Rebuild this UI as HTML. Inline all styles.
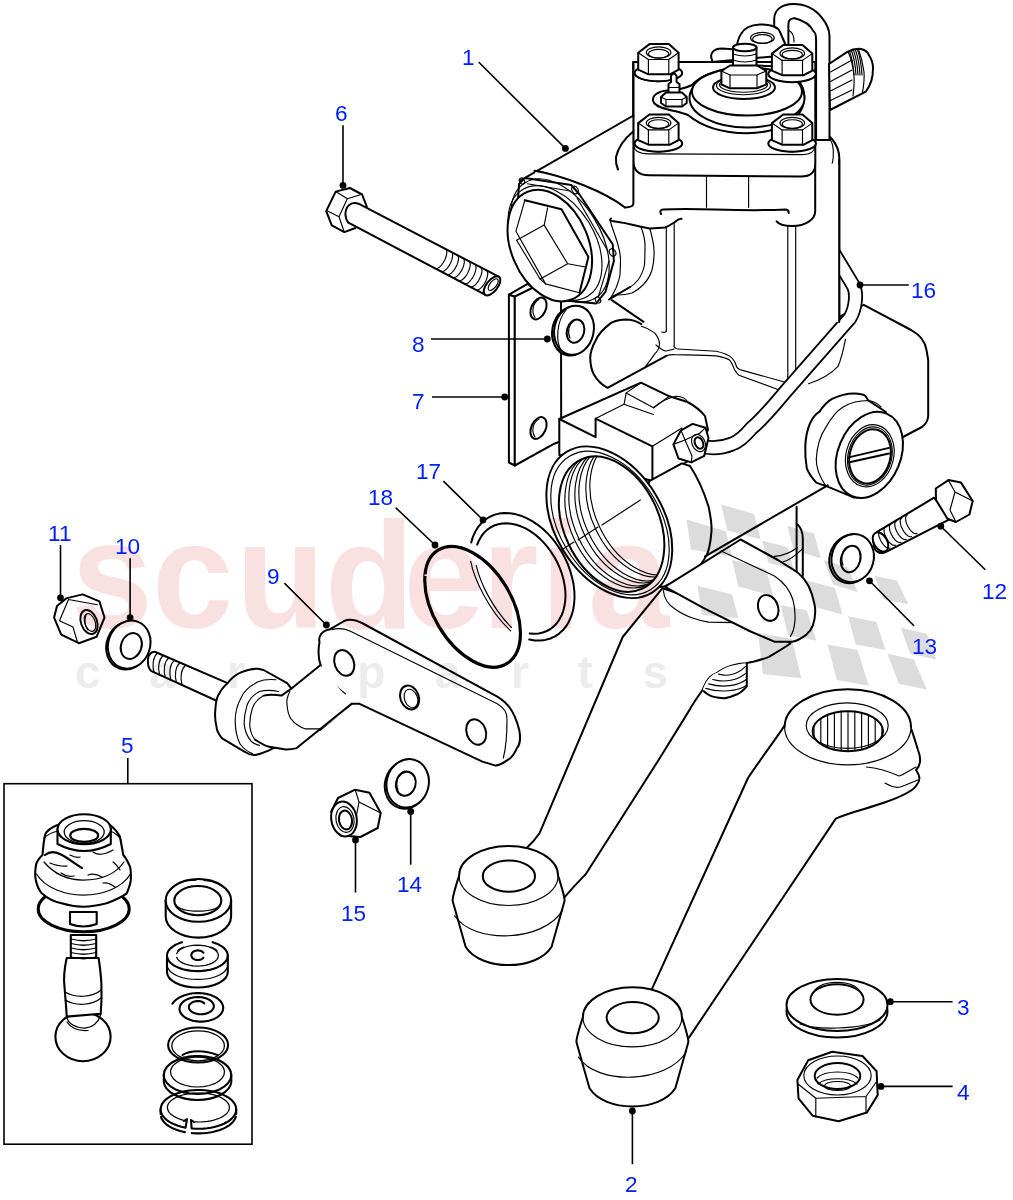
<!DOCTYPE html>
<html><head><meta charset="utf-8"><style>
html,body{margin:0;padding:0;background:#fff;width:1013px;height:1200px;overflow:hidden}
svg{display:block}
.wm{font-family:"Liberation Sans",sans-serif;font-weight:bold;fill:#fae1e1}
.wg{font-family:"Liberation Sans",sans-serif;font-weight:bold;fill:#ececee}
.lb{font-family:"Liberation Sans",sans-serif;font-size:22.6px;fill:#0020ff}
.ld{stroke:#000;stroke-width:1.6;fill:none}
.o{stroke:#000;stroke-width:2;fill:#fff;stroke-linejoin:round;stroke-linecap:round}
.on{stroke:#000;stroke-width:2;fill:none;stroke-linejoin:round;stroke-linecap:round}
.t{stroke:#000;stroke-width:1.15;fill:none;stroke-linejoin:round;stroke-linecap:round}
#box5 .o,#box5 .on{stroke-width:2.1}
#box5 .t{stroke-width:1.25}
.f{fill:#fff;stroke:none}
.tf{stroke:#000;stroke-width:1.1;fill:#fff;stroke-linejoin:round;stroke-linecap:round}
</style></head><body>
<svg id="s" width="1013" height="1200" viewBox="0 0 1013 1200">
<rect width="1013" height="1200" fill="#fff"/>
<g id="parts">
<path class="f" d="M800 330 L839 317 L863.7 304.8 L911.1 330 C920 335 925.3 341 926.5 350 L928.2 360 L928.2 416 C928 421 926 424 922 427 L901 438 L827.7 485.3 L705.1 556.4 L665.7 586.8 L620 590 L640 380 Z"/>
<path class="on" d="M839 317 L863.7 304.8 L911.1 330 C920 335 925.3 341 926.5 350 L928.2 360 L928.2 416 C928 421 926 424 922 427 L901 438 L824.8 486.2"/>
<path class="f" d="M740.6 539.5 L796.6 506.7 L802.8 528 L802.8 576 L760 580 Z"/>
<path class="o" d="M805.3 446.3 C806 428 812 416 819.5 411.6 C824 405 828 401 832.1 398.9 C840 395 847 393.4 854.2 393.4 C859 393.5 863 394 865.3 395.8 L868.4 400.5 L886 412 L866 470 L854.2 497.7 L825.8 485.8 C821 484.5 818.5 483.5 816.3 482.6 C812 478 809 474 806.8 468.4 C805.5 461 805 454 805.3 446.3 Z"/>
<path class="t" d="M816.3 459 C817 445 820 436 825.8 427.4 C831 418 836 411 843.2 406.9 C850 403 858 400.5 868.4 400.5 C873 401 877 403 881 406.9"/>
<path class="t" d="M816.3 459 C816 468 819 476 825.8 485.8"/>
<ellipse class="o" cx="869.3" cy="454.9" rx="31.3" ry="44.8" transform="rotate(22.7 869.3 454.9)"/>
<ellipse class="t" cx="869.8" cy="455.8" rx="23.8" ry="31.5" transform="rotate(15 869.8 455.8)"/>
<ellipse class="t" cx="869.9" cy="456" rx="21.8" ry="29.5" transform="rotate(15 869.9 456)"/>
<ellipse class="on" cx="870" cy="456.3" rx="20.3" ry="27.5" transform="rotate(15 870 456.3)"/>
<path class="on" d="M848.7 457.4 L889 447.9 M849.5 462.2 L889 453.5"/>
<path class="f" d="M805 128 L816.8 128 C828 133 839 143 839.3 158 L839.3 322 L805 322 Z"/>
<path class="on" d="M816.8 128 C828 133 839 143 839.3 158 L839.3 322"/>
<path class="t" d="M817.5 129.5 C824 132 828 135 830 139 C832.5 143 833.3 147 833.3 150 C833.5 155 833 160 832.5 162.5 C830 168 828 171 826.5 173.8 C823 177 820 179 816.8 180.5"/>
<path class="t" d="M837.8 167.8 C833 177 826 185 816.8 190.3"/>
<path class="o" d="M774.2 60 L774.2 19 C774.2 9 783 4 793.2 4 C805 4 815 9 821.6 17.4 C827 24 829.5 30 829.5 36.3 L829.5 140 L816.1 140 L816.1 41 C816.1 35 815 32 813.7 31.6 C810 24 804.2 20.5 794.8 18.2 C791 18 788.4 20 788.4 24 L788.4 60 Z"/>
<path class="t" d="M789.2 30.8 C792 32 794 36 794 41.9"/>
<path class="o" d="M712 60 C709 53 714 48.5 722 48.5 L736 49.5 C737 44 738 38 741 34 C744 28 750 25 760 24.5 C770 24.5 778 27 780 32 L790 55 L712 62 Z"/>
<ellipse class="t" cx="762.4" cy="37.9" rx="11.8" ry="5.5"/>
<ellipse class="t" cx="762.4" cy="39" rx="9.8" ry="4.4"/>
<path class="o" d="M829 64 L846.9 52.1 C852 49.5 857 48.5 861.1 49 C865 50 868 52.5 869 55.3 C872 60 873 64 873 67.9 C873 73 872.5 77 871.4 80.6 C870 85 868 89 865.8 91.6 L830 110 Z"/>
<path class="t" d="M848 51.5 C851 58 853 66 854 76 C854.5 82 854 88 853 96 M858.5 49.3 C861 56 863 64 864 72 C864.5 78 864 84 862.5 92.5"/>
<path class="t" d="M849.5 51.2 C852.0 58.0 853.5 66 854.0 75"/>
<path class="t" d="M851.5 50.800000000000004 C854.0 57.7 855.5 66 856.0 75"/>
<path class="t" d="M853.5 50.400000000000006 C856.0 57.4 857.5 66 858.0 75"/>
<path class="t" d="M855.5 50.0 C858.0 57.1 859.5 66 860.0 75"/>
<path class="t" d="M857.5 49.6 C860.0 56.8 861.5 66 862.0 75"/>
<path class="t" d="M830.5 72.0 L852 60.0"/>
<path class="t" d="M830.5 81.5 L852 70.0"/>
<path class="t" d="M830.5 91.0 L852 80.0"/>
<path class="t" d="M830.5 100.5 L852 90.0"/>
<path class="f" d="M633.2 150 L633.2 203.3 Q633 207 627.3 207.3 L611 219 L600 330 L690 349 L787 382 L839 330 L839 165 L815 160 Z"/>
<path class="o" d="M633.2 62 L633.2 160 Q633.2 175.3 649 175.3 L801 176.5 Q815.3 176.5 815.3 164 L815.3 62 Z"/>
<path class="t" d="M633.6 146 Q635 153.8 648 153.8 L803 154.6 Q814 154.6 815 146"/>
<path class="o" d="M654 103 C650 96 658 91 668 90.5 C678 90 686 88 692 85 C705 70 740 64 770 66 C795 70 806 85 804 100 C803 118 780 133 747 133.3 C720 133 700 125 688 115 C675 110 660 110 654 103 Z"/>
<ellipse class="o" cx="747" cy="98" rx="57.5" ry="29.5"/>
<ellipse class="o" cx="747" cy="91.5" rx="55" ry="24"/>
<ellipse class="o" cx="744" cy="87.5" rx="31" ry="11.5"/>
<ellipse class="t" cx="743.5" cy="85.5" rx="27" ry="9.3"/>
<ellipse class="t" cx="743.5" cy="84.7" rx="24" ry="7.5"/>
<path class="o" d="M733 47.5 L733 70 L756.5 70 L756.5 47.5 Z"/>
<ellipse class="o" cx="744.75" cy="47.5" rx="11.75" ry="3.8"/>
<path class="t" d="M733 54 Q744.8 58 756.5 54 M733 60 Q744.8 64 756.5 60"/>
<polygon class="o" points="721.4,71.0 730.0,65.5 757.0,65.5 766.3,71.0 766.3,84.5 757.0,88.3 730.0,88.3 721.4,84.5"/>
<polyline class="t" points="721.4,71.0 730.0,75.0 757.0,75.0 766.3,71.0"/>
<path class="t" d="M730 75 V88.3 M757 75 V88.3"/>
<ellipse class="o" cx="658.4000000000001" cy="73.1" rx="23.8" ry="8.2"/>
<path class="t" d="M634.6 73.1 Q635.2 80.1 658.4000000000001 81.6 Q681.2 80.1 682.2 73.1"/>
<polygon class="o" points="638.2,52.7 649.5,44.1 668.8,44.1 678.6,52.7 678.6,69.7 670.0,74.3 648.4,74.3 638.2,69.7"/>
<polyline class="t" points="638.2,52.7 648.4,59.5 668.8,59.5 678.6,52.7"/>
<path class="t" d="M648.4000000000001 59.5 V74.3 M668.8000000000001 59.5 V74.3"/>
<ellipse class="t" cx="658.6" cy="52.5" rx="12.3" ry="5.6"/>
<ellipse class="t" cx="658.6" cy="53.7" rx="10.2" ry="4.3"/>
<ellipse class="o" cx="792.1" cy="74" rx="23.8" ry="8.2"/>
<path class="t" d="M768.3 74 Q768.9 81 792.1 82.5 Q814.9 81 815.9 74"/>
<polygon class="o" points="771.9,53.6 783.2,45.0 802.5,45.0 812.3,53.6 812.3,70.6 803.7,75.2 782.1,75.2 771.9,70.6"/>
<polyline class="t" points="771.9,53.6 782.1,60.4 802.5,60.4 812.3,53.6"/>
<path class="t" d="M782.1 60.4 V75.2 M802.5 60.4 V75.2"/>
<ellipse class="t" cx="792.3" cy="53.4" rx="12.3" ry="5.6"/>
<ellipse class="t" cx="792.3" cy="54.6" rx="10.2" ry="4.3"/>
<ellipse class="o" cx="658.4000000000001" cy="143.5" rx="23.8" ry="8.2"/>
<path class="t" d="M634.6 143.5 Q635.2 150.5 658.4000000000001 152.0 Q681.2 150.5 682.2 143.5"/>
<polygon class="o" points="638.2,123.1 649.5,114.5 668.8,114.5 678.6,123.1 678.6,140.1 670.0,144.7 648.4,144.7 638.2,140.1"/>
<polyline class="t" points="638.2,123.1 648.4,129.9 668.8,129.9 678.6,123.1"/>
<path class="t" d="M648.4000000000001 129.9 V144.7 M668.8000000000001 129.9 V144.7"/>
<ellipse class="t" cx="658.6" cy="122.9" rx="12.3" ry="5.6"/>
<ellipse class="t" cx="658.6" cy="124.1" rx="10.2" ry="4.3"/>
<ellipse class="o" cx="792.1" cy="143.5" rx="23.8" ry="8.2"/>
<path class="t" d="M768.3 143.5 Q768.9 150.5 792.1 152.0 Q814.9 150.5 815.9 143.5"/>
<polygon class="o" points="771.9,123.1 783.2,114.5 802.5,114.5 812.3,123.1 812.3,140.1 803.7,144.7 782.1,144.7 771.9,140.1"/>
<polyline class="t" points="771.9,123.1 782.1,129.9 802.5,129.9 812.3,123.1"/>
<path class="t" d="M782.1 129.9 V144.7 M802.5 129.9 V144.7"/>
<ellipse class="t" cx="792.3" cy="122.9" rx="12.3" ry="5.6"/>
<ellipse class="t" cx="792.3" cy="124.1" rx="10.2" ry="4.3"/>
<path class="o" d="M668.5 94 L668.5 84 L671 82 L671 76 Q673.8 71 676.6 76 L676.6 82 L679.5 84 L679.5 94 Z"/>
<path class="t" d="M668.6 87.5 H679.4"/>
<polygon class="o" points="661.0,97.0 666.0,92.5 682.0,92.5 686.7,97.0 686.7,103.0 682.0,106.5 666.0,106.5 661.0,103.0"/>
<path class="t" d="M661 97 L666 99.5 H682 L686.7 97 M666 99.5 V106.5 M682 99.5 V106.5"/>
<path class="t" d="M706.5 176.7 V207.3 M748.6 176.7 V207.3"/>
<path class="on" d="M661 214 Q659 210 663 209.5 C700 207 730 212 786 209.5 Q789 210 788.6 213"/>
<path class="on" d="M776.6 221.4 Q780 226 792.6 226 C805 226 815 220 815.2 211.3 L815.2 166"/>
<path class="t" d="M666.3 227.3 V330.9 M674.2 222 V346.8 M787.8 226 V379.7 M795.7 226 V369.5"/>
<path class="t" d="M674.2 346.8 C675 348 676 349 677.6 349 L716.2 351.3 C724 353 729 355 732.1 358.1 C735 361 736 364 736.7 367.2 C738 369 740 370 743.5 370.6 L784.4 382 Q787.8 382 787.8 379.7"/>
<path class="t" d="M666.3 330.9 Q666 333 661.7 332"/>
<path class="f" d="M520.6 180.4 L633.5 115.5 L633.5 206 L611 219 L611 300 L644 323 L640 380 L600 400 L560 330 Z"/>
<path class="on" d="M520.6 180.4 L633.5 115.5"/>
<path class="on" d="M633.3 131.5 C624 139 618 148 616 157 C615.5 162 616.5 166 618 169.5"/>
<path class="t" d="M537 170.6 C560 176 600 190 627 207"/>
<path class="on" d="M641.3 324.1 C635 320 630 319.5 625.4 319.5 C618 320 613 321 609.5 324.1 C602 330 598 335 595.9 340 C592 347 590.2 352 590.2 358.1 C590.5 365 591.5 370 593.6 374 C597 380 602 385 607.2 387.6"/>
<path class="on" d="M611.8 300.2 L643.6 321.8"/>
<path class="t" d="M641.3 326.3 C648 328 654.9 333.1 654.9 333.1 C658 337 659.5 341 659.5 344.5 C659 349 657 352 654.9 353.6 C652 358 649 362 645.8 366.1"/>
<path class="on" d="M608 387.6 L666.3 355.9"/>
<path class="t" d="M666.3 355.9 C670 354.5 673 354.5 675.4 354.7 C690 355 705 355 716.2 355.9 C722 357 727 358 729.9 360.4 C732 363 733 366 734.4 369.5 C736 372 737 374 739 375.2 L782.1 391"/>
<path class="t" d="M656 345 C660 348.5 663 351 666 351 C669 350.5 672 349.5 674.2 349"/>
<path class="o" d="M508.9 294.7 L527.6 283.8 L532.6 287.8 L514.8 296.7 Z"/>
<path class="o" d="M508.9 294.7 L514.8 296.7 L514.8 465.5 L508.9 462.5 Z"/>
<path class="o" d="M514.8 296.7 L532.6 287.8 L561 300 L561.2 441 L554.3 443.7 L514.8 465.5 Z"/>
<ellipse class="on" cx="538.5" cy="308.5" rx="7.2" ry="11.5" transform="rotate(25 538.5 308.5)"/>
<path class="t" d="M535 317.5 C531 311.5 533 302.5 539 299.5"/>
<ellipse class="on" cx="538.5" cy="428" rx="7.2" ry="11.5" transform="rotate(25 538.5 428)"/>
<path class="t" d="M535 437 C531 431 533 422 539 419"/>
<path class="f" d="M534.5 170.8 C565 176 605 192 629 206.3 L611 219 L640 226.5 L650 229 C656 245 655 262 652 270 C649 280 645 285 643 285 C638 290 632 293 618 295 L596 303 Z"/>
<path class="on" d="M534.5 170.8 C565 176 605 192 625 207.5"/>
<path class="on" d="M633.4 62 L633.4 203.3 Q633.2 207.5 625 207.5"/>
<path class="on" d="M611 218.5 Q609 220 612 221 C620 222 630 224 640 226.5 C645 227.5 648 228.5 650 228.5 C655 228.3 660 228 665 227.5 C669 226 672 224 675 222 C677 220 679 218.5 681.5 218.8"/>
<path class="t" d="M610 220 C612 228 616 237 618 245 C620 252 620.5 258 620.5 260 C620.5 268 620 272 620 275 C619 281 617 285 616 288 C614 292 612 296 610 299"/>
<path class="t" d="M641 227 C644 235 645 240 645 245 C645 252 645 258 644.5 265 C643 272 641 276 638 280 C635 284 632 286 629 288 C624 291 618 294 613 296"/>
<path class="t" d="M650 229 C652 237 654 244 654 250 C654.5 258 653.5 264 652 270 C650 276 647 281 643 285 C640 288 636 291 632 293 C627 294.5 622 295 618 295"/>
<path class="on" d="M609 299.5 C615 296 623 291 630 287"/>
<path class="o" d="M519.1 183.8 L525 177.9 L571.2 185 L579.5 194.5 L612.7 244.2 L613.9 260.8 L605.6 291.6 L596.1 303.5 L560 300 L515 240 Z"/>
<path class="t" d="M527.4 183.8 L570 191 M577.1 198 L608 251.3 M609.1 260.8 L598.5 296.4"/>
<ellipse class="t" cx="522" cy="181" rx="2.5" ry="3.25" transform="rotate(-30 522 181)"/>
<ellipse class="t" cx="575" cy="190" rx="3" ry="3.9000000000000004" transform="rotate(-30 575 190)"/>
<ellipse class="t" cx="612.6" cy="252.5" rx="3" ry="3.9000000000000004" transform="rotate(-30 612.6 252.5)"/>
<ellipse class="t" cx="598" cy="300" rx="2.5" ry="3.25" transform="rotate(-30 598 300)"/>
<ellipse class="t" cx="560" cy="240.5" rx="40.6" ry="67.5" transform="rotate(-31 560 240.5)"/>
<ellipse class="t" cx="555" cy="243" rx="39.6" ry="62.5" transform="rotate(-31.5 555 243)"/>
<ellipse class="o" cx="549.8" cy="245.6" rx="58.2" ry="38.7" transform="rotate(67.2 549.8 245.6)"/>
<path class="on" d="M524.9 200.2 L561.5 209.2 L588.4 256.9 L579.5 292.8"/>
<path class="t" d="M524.9 200.2 L515.9 231.3 M579.5 292.8 L545.6 283.9 L515.9 231.3"/>
<path class="t" d="M516.6 240.3 L544.2 225.1 L567.7 263.8 L540.1 279 Z"/>
<path class="t" d="M544.2 225.1 L547.6 207.8 M567.7 263.8 L585.5 267 M540.1 279 L545.6 283.9"/>
<ellipse class="o" cx="572" cy="331" rx="19.7" ry="24.7" transform="rotate(12 572 331)"/>
<ellipse class="o" cx="574" cy="330.2" rx="19.7" ry="24.7" transform="rotate(12 574 330.2)"/>
<ellipse class="on" cx="575.5" cy="331.2" rx="8.6" ry="11.8" transform="rotate(15 575.5 331.2)"/>
<path class="t" d="M570 338 C567 332 569 324 574 321"/>
<path class="t" d="M561 350 C556 342 556 322 566 310"/>
<path class="t" d="M845.5 339.2 C843 352 840 362 838 366.4 C830 375 820 380 808.5 383.7"/>
<clipPath id="cpipe"><path d="M839 0 H1013 V1200 H0 V322 H839 Z"/></clipPath>
<g clip-path="url(#cpipe)">
<path d="M833 252 L853.5 286 C857 293 856 308 850 318 L786 391 C775 404 762 420 751.7 428 C745 436 738 442 732 444 C722 448 711 450 697 445" fill="none" stroke="#000" stroke-width="15" stroke-linecap="butt" stroke-linejoin="round"/>
<path d="M833 252 L853.5 286 C857 293 856 308 850 318 L786 391 C775 404 762 420 751.7 428 C745 436 738 442 732 444 C722 448 711 450 697 445" fill="none" stroke="#fff" stroke-width="11.4" stroke-linecap="butt" stroke-linejoin="round"/>
</g>
<path class="on" d="M839.2 160 V322"/>
<path class="o" d="M559.3 419 L641 382.7 L669.4 396.3 L687.5 402 C695 406 701 411 705 416 L708 430 L690 460 L652.4 481 L559.3 455 Z"/>
<path class="on" d="M559.3 419 L595.6 437.2 L595.6 418.6 L652.4 446.3 L652.4 481"/>
<path class="t" d="M595.6 418.6 L624 404.3 L626.2 392.9 L641 382.7"/>
<path class="t" d="M626.2 392.9 L653.5 407.7 L669.4 396.3 M624 404.3 L653.5 414.5"/>
<path class="t" d="M653.5 407.7 C660 402 668 398 676.2 396.3 C682 396.5 686 398.5 687.5 402"/>
<path class="t" d="M652.4 446.3 L681.9 428.1"/>
<path class="t" d="M652.4 481 L681.9 463.4"/>
<polygon class="o" points="673.4,444.4 681.0,430.3 692.6,423.9 705.5,427.7 708.5,438.0 704.2,455.9 691.3,462.4 678.5,458.5"/>
<path class="t" d="M681 430.3 L685 440 L673.4 444.4 M685 440 L692 456 L691.3 462.4 M685 440 L700 433 L705.5 427.7"/>
<ellipse class="t" cx="698.5" cy="443" rx="6.5" ry="9" transform="rotate(-25 698.5 443)"/>
<ellipse class="on" cx="699" cy="443" rx="4" ry="6" transform="rotate(-25 699 443)"/>
<path class="o" d="M649.3 481.2 L681.9 463.4 L690 466 C698 478 704 492 708.6 506.7 C711 518 712 528 711.3 533.3 C710.5 542 709 550 706.9 554.6 C703 562 700 566 696.2 568.8 C690 574 684 577 678.4 579.5 C672 583 668 585 664.2 586.6 L620 590 Z"/>
<ellipse class="o" cx="609.3" cy="522.2" rx="54" ry="82.3" transform="rotate(-31.3 609.3 522.2)"/>
<ellipse class="t" cx="610" cy="523" rx="50.5" ry="78" transform="rotate(-31.3 610 523)"/>
<clipPath id="cbore"><ellipse cx="611.6" cy="524.1" rx="71.5" ry="47.4" transform="rotate(64.5 611.6 524.1)"/></clipPath>
<ellipse class="on" cx="611.6" cy="524.1" rx="71.5" ry="47.4" transform="rotate(64.5 611.6 524.1)"/>
<g clip-path="url(#cbore)">
<ellipse class="t" cx="617.6" cy="520.1" rx="71.5" ry="47.4" transform="rotate(64.5 617.6 520.1)"/>
<ellipse class="t" cx="621.6" cy="518.1" rx="71.5" ry="47.4" transform="rotate(64.5 621.6 518.1)"/>
<ellipse class="t" cx="627.6" cy="515.1" rx="71.5" ry="47.4" transform="rotate(64.5 627.6 515.1)"/>
<ellipse class="t" cx="631.6" cy="513.1" rx="71.5" ry="47.4" transform="rotate(64.5 631.6 513.1)"/>
<ellipse class="t" cx="638.6" cy="509.1" rx="71.5" ry="47.4" transform="rotate(64.5 638.6 509.1)"/>
<ellipse class="t" cx="642.6" cy="507.1" rx="71.5" ry="47.4" transform="rotate(64.5 642.6 507.1)"/>
</g>
<path class="t" d="M559.5 551.3 L574 542 M578 540 L598 527 M602 525 L640.4 500"/>
<path class="on" d="M705.1 556.4 L827.7 485.3"/>
<path class="on" d="M796.6 506.7 V574.2"/>
<path class="on" d="M797.5 524.4 C801 528 802.8 533 802.8 538.6 V576"/>
<path class="t" d="M774.4 556.4 C782 556 790 553 797.5 547.5 M783.3 561.7 C790 560 796 555 801.9 549.3"/>
<path class="o" d="M662.5 588.2 L622.7 637 L539.5 833.3 C535 840 530 845 526.6 848 L564.4 897.3 C575 885 582 878 585.7 874.2 L658.6 760 L690 709.1 C695 700 700 694 702.8 689.4 C705 684 707 680 709.7 677.5 C712 675 715 673.5 717.6 672.6 C722 669 727 667 731.5 665.7 C736 664.5 741 663.5 745.3 663.2 L753.2 661.7 C760 660 765 658.5 769 656.8 C777 652 784 648 790.4 643.5 L760 620 Z"/>
<path class="o" d="M459.1 875.7 A49.5 29.8 0 0 1 558.1 875.7 C560.6 883.7 564.6 895.7 564.6 900.7 L551.6 946.7 C536.6 971.2 480.6 971.2 465.6 946.7 L452.6 900.7 C452.6 895.7 456.6 883.7 459.1 875.7 Z"/>
<path class="t" d="M454.6 915.7 C473.6 944.4000000000001 543.6 942.4000000000001 562.6 910.1"/>
<path class="t" d="M459.1 875.7 A49.5 29.8 0 0 0 558.1 875.7"/>
<ellipse class="on" cx="508.90000000000003" cy="876.2" rx="26.1" ry="15.6"/>
<path class="f" d="M702.8 689.4 C705 684 707 680 709.7 677.5 C712 675 715 673.5 717.6 672.6 C722 669 727 667 731.5 665.7 C736 664.5 741 663.5 746.8 663.2 L746.8 686.4 C742 692 738 694.5 734.4 695.3 C730 697 727 698.2 723.6 698.2 C716 697.5 712 696.5 709.7 695.3 C707 694 705 692.5 702.8 689.4 Z"/>
<path class="on" d="M746.8 663.2 L746.8 686.4 C742 692 738 694.5 734.4 695.3 C730 697 727 698.2 723.6 698.2 C716 697.5 712 696.5 709.7 695.3 C707 694 705 692.5 703.8 691.3"/>
<path class="t" d="M718.6 674.1 C728 677 738 674 745.3 666.7 M712.7 679.5 C725 683 738 680 745.3 673.6 M708.8 683.9 C722 688 738 686 746.3 679.5 M705.8 688.4 C720 693 738 691 746.3 685.4"/>
<path class="t" d="M663.3 590.2 C664 598 667.8 604.4 675 609 C685.5 616.8 700 621 708.6 622.1 L733.5 622.6"/>
<path class="o" d="M665.1 586.6 L740.6 539.5 L777.9 560 L792.1 568.8 C800 573 808 582 811.7 593.7 C814 601 815.5 608 815.2 612 C815 622 812 630 806.4 634.6 C802 638 797 641 792.1 641.7 L774.4 641.7 L749.5 631 L703.3 607.9 L667.8 588.4 Z"/>
<path class="t" d="M721.1 551.1 L774.4 576 C782 581 790 590 793 600 C795 608 795.5 615 794.8 622.1 C794 630 792 634 790.4 636.4"/>
<ellipse class="on" cx="768.2" cy="607.9" rx="9.8" ry="13.3" transform="rotate(-20 768.2 607.9)"/>
<path class="o" d="M784.6 725.6 C775 740 760 760 748 778 L651.9 989.2 L688.3 1038.6 L835.8 818.6 C850 812 870 808 885.1 802.3 C900 797 912 792 916.2 785.7 C921 780 920 776 916 770 C920 766 922 760 918 750 C915 740 912 730 909 723.5 Z"/>
<path class="o" d="M582.9 1017.1 A49.5 29.8 0 0 1 681.9 1017.1 C684.4 1025.1 688.4 1037.1 688.4 1042.1 L675.4 1088.1 C660.4 1112.6 604.4 1112.6 589.4 1088.1 L576.4 1042.1 C576.4 1037.1 580.4 1025.1 582.9 1017.1 Z"/>
<path class="t" d="M578.4 1057.1 C597.4 1085.8 667.4 1083.8 686.4 1051.5"/>
<path class="t" d="M582.9 1017.1 A49.5 29.8 0 0 0 681.9 1017.1"/>
<ellipse class="on" cx="632.6999999999999" cy="1017.6" rx="26.1" ry="15.6"/>
<path class="f" d="M784.6 727.1 A63.2 37.8 0 0 1 911 727.1 A63.2 37.8 0 0 1 784.6 727.1 Z"/>
<path class="on" d="M784.6 727.1 A63.2 37.8 0 0 1 911 727.1"/>
<path class="t" d="M784.6 727.1 A63.2 37.8 0 0 0 911 727.1"/>
<ellipse class="t" cx="847.2" cy="725.6" rx="41" ry="22.8"/>
<ellipse class="on" cx="847.8" cy="731.3" rx="35.2" ry="20"/>
<clipPath id="cspl"><ellipse cx="847.8" cy="731.3" rx="35.2" ry="20"/></clipPath><g clip-path="url(#cspl)">
<path class="t" d="M814.0 705 V760"/>
<path class="t" d="M820.8 705 V760"/>
<path class="t" d="M827.6 705 V760"/>
<path class="t" d="M834.4 705 V760"/>
<path class="t" d="M841.2 705 V760"/>
<path class="t" d="M848.0 705 V760"/>
<path class="t" d="M854.8 705 V760"/>
<path class="t" d="M861.6 705 V760"/>
<path class="t" d="M868.4 705 V760"/>
<path class="t" d="M875.2 705 V760"/>
<path class="t" d="M882.0 705 V760"/>
</g>
<path class="t" d="M866.4 767 C880 768 890 772 899 776 C905 774 910 770 916 767 M885 783 C890 786 896 788 900 787 C907 785 912 782 918 780"/>
<ellipse class="o" cx="837" cy="1011.5" rx="50.5" ry="26"/>
<ellipse class="o" cx="837" cy="1005" rx="50.5" ry="26"/>
<ellipse class="on" cx="837" cy="999.5" rx="26.6" ry="15.2"/>
<path class="t" d="M811.5 996 C815 986 825 982.3 837 982.3 C849 982.3 859 986 862.5 996"/>
<path class="t" d="M800 1024 C815 1030 860 1030 880 1020"/>
<polygon class="o" points="797.4,1079.9 808.2,1060.3 832.1,1051.7 862.5,1056.0 876.6,1071.2 877.7,1095.1 866.9,1112.5 838.6,1121.2 812.6,1115.7 798.5,1098.3"/>
<path class="t" d="M798 1084 L815.8 1098.3 L866 1096.5 L877 1081 M815.8 1098.3 V1117 M866 1096.5 V1113"/>
<ellipse class="t" cx="837.5" cy="1075.5" rx="33.7" ry="19.5"/>
<ellipse class="on" cx="837.5" cy="1076" rx="22.8" ry="13"/>
<path class="t" d="M817 1078 C825 1070 850 1070 858 1078 M818 1084 C826 1077 849 1077 857 1084"/>
<ellipse class="t" cx="837.5" cy="1086" rx="13" ry="4.5"/>
<polygon class="o" points="335.7,191.6 349.9,188.0 362.1,194.5 366.8,206.7 355.5,228.0 344.3,232.1 331.8,225.3 326.2,211.1"/>
<path class="t" d="M335.7 191.6 L347.3 198.7 L360.3 194.8 M347.3 198.7 L339 216.7 L327.1 210.8 M339 216.7 L344.3 232.1"/>
<path class="o" d="M358.5 203.7 L499.1 276.9 L485 294.7 L348.4 222.7 C345 219 344.5 212 347 207.5 C349.5 203.5 354 202 358.5 203.7 Z"/>
<ellipse class="o" cx="492" cy="285.8" rx="11.35" ry="5.6" transform="rotate(128.4 492 285.8)"/>
<ellipse class="t" cx="493.2" cy="284.6" rx="7" ry="3.2" transform="rotate(128.4 493.2 284.6)"/>
<polyline class="t" points="445.4,248.9 446.1,249.4 446.6,250.4 446.8,251.7 446.8,253.2 446.5,254.9 446.0,256.8 445.3,258.7 444.3,260.7 443.3,262.5 442.1,264.3 440.8,265.8 439.6,267.0 438.3,267.9 437.2,268.4 436.1,268.6 435.3,268.4"/>
<polyline class="t" points="451.3,251.9 452.0,252.5 452.4,253.5 452.6,254.7 452.6,256.2 452.3,258.0 451.8,259.9 451.1,261.8 450.2,263.7 449.1,265.6 447.9,267.3 446.7,268.8 445.4,270.0 444.2,270.9 443.0,271.5 442.0,271.6 441.1,271.4"/>
<polyline class="t" points="457.1,255.0 457.8,255.6 458.3,256.5 458.5,257.8 458.5,259.3 458.2,261.0 457.7,262.9 457.0,264.9 456.0,266.8 455.0,268.7 453.8,270.4 452.5,271.9 451.3,273.1 450.0,274.0 448.9,274.5 447.8,274.7 446.9,274.5"/>
<polyline class="t" points="463.0,258.0 463.7,258.6 464.1,259.6 464.3,260.8 464.3,262.4 464.0,264.1 463.5,266.0 462.8,267.9 461.9,269.9 460.8,271.7 459.6,273.4 458.4,274.9 457.1,276.1 455.9,277.0 454.7,277.6 453.7,277.7 452.8,277.5"/>
<polyline class="t" points="468.8,261.1 469.5,261.7 470.0,262.6 470.2,263.9 470.2,265.4 469.9,267.2 469.4,269.0 468.6,271.0 467.7,272.9 466.7,274.8 465.5,276.5 464.2,278.0 463.0,279.2 461.7,280.1 460.6,280.6 459.5,280.8 458.6,280.6"/>
<polyline class="t" points="474.7,264.1 475.4,264.7 475.8,265.7 476.0,266.9 476.0,268.5 475.7,270.2 475.2,272.1 474.5,274.0 473.6,276.0 472.5,277.8 471.3,279.5 470.1,281.0 468.8,282.3 467.6,283.2 466.4,283.7 465.4,283.9 464.5,283.6"/>
<polyline class="t" points="480.5,267.2 481.2,267.8 481.7,268.7 481.9,270.0 481.9,271.5 481.6,273.3 481.1,275.1 480.3,277.1 479.4,279.0 478.4,280.9 477.2,282.6 475.9,284.1 474.7,285.3 473.4,286.2 472.3,286.8 471.2,286.9 470.3,286.7"/>
<polyline class="t" points="486.4,270.3 487.1,270.9 487.5,271.8 487.7,273.1 487.7,274.6 487.4,276.3 486.9,278.2 486.2,280.2 485.3,282.1 484.2,284.0 483.0,285.7 481.8,287.2 480.5,288.4 479.3,289.3 478.1,289.8 477.1,290.0 476.2,289.8"/>
<ellipse cx="522" cy="576.8" rx="46.8" ry="68.1" transform="rotate(-28.8 522 576.8)" fill="#fff" stroke="none"/>
<polyline class="on" points="471.2,542.5 472.9,536.9 475.2,531.8 478.0,527.2 481.4,523.1 485.2,519.7 489.4,517.0 494.1,514.9 499.0,513.6 504.2,513.0 509.7,513.2 515.3,514.1 520.9,515.7 526.6,518.1 532.2,521.1 537.7,524.8 543.0,529.0 548.1,533.9 552.8,539.2 557.2,545.0 561.2,551.1 564.8,557.6 567.8,564.2 570.3,571.1 572.2,577.9 573.6,584.8 574.4,591.6 574.5,598.2 574.0,604.5 573.0,610.6 571.3,616.2 569.0,621.4 566.3,626.0 563.0,630.1 559.2,633.6 555.0,636.4 550.4,638.5 545.4,639.9 540.2,640.5 534.8,640.4 529.2,639.6"/>
<polyline class="on" points="477.2,544.7 479.0,540.4 481.3,536.4 483.9,532.9 487.0,529.9 490.4,527.5 494.2,525.5 498.2,524.2 502.4,523.4 506.9,523.3 511.4,523.7 516.1,524.7 520.8,526.3 525.6,528.4 530.2,531.1 534.7,534.3 539.1,538.0 543.3,542.1 547.2,546.6 550.8,551.5 554.1,556.6 557.1,562.0 559.6,567.6 561.7,573.2 563.4,579.0 564.5,584.7 565.3,590.4 565.5,595.9 565.2,601.2 564.4,606.3 563.2,611.1 561.5,615.6 559.3,619.6 556.8,623.2 553.8,626.4 550.5,629.0 546.8,631.0 542.8,632.5 538.7,633.4 534.3,633.8 529.7,633.5"/>
<path class="t" d="M470.7 561.3 C474 578 488 610 510.7 630.9 M476.2 565.4 C480 582 492 608 511.5 627.5"/>
<ellipse cx="472.6" cy="606.8" rx="39.1" ry="66.3" transform="rotate(-31 472.6 606.8)" fill="none" stroke="#000" stroke-width="3.2"/>
<path d="M424.5 575 L430 576" stroke="#fff" stroke-width="1.6"/>
<path class="o" d="M155.4 652 L227.6 683.2 L216 700.5 L151.5 671.2 C147 668 147 657 150 654 C151.5 652.5 153.5 651.5 155.4 652 Z"/>
<path class="t" d="M157.5 653.0 C153.0 657.0 152.0 665.0 154.0 672.5"/>
<path class="t" d="M163.1 655.45 C158.6 659.45 157.6 667.45 159.6 674.95"/>
<path class="t" d="M168.7 657.9 C164.2 661.9 163.2 669.9 165.2 677.4"/>
<path class="t" d="M174.3 660.35 C169.8 664.35 168.8 672.35 170.8 679.85"/>
<path class="t" d="M179.9 662.8 C175.4 666.8 174.4 674.8 176.4 682.3"/>
<path class="t" d="M185.5 665.25 C181.0 669.25 180.0 677.25 182.0 684.75"/>
<path class="o" d="M319.5 642 C318 636 322 631 329.4 629.6 L344.2 621 C350 618 356 620 362 623 L492.2 693.8 C505 700 514 708 519.4 730.8 C521 740 519 746 516.9 748.1 C514 755 510 759 507 760.4 C502 764 498 766 494.7 765.4 L482.4 761.6 L359 703.7 L351.6 703.7 L320 730 L320.7 665.4 C318 658 318 650 319.5 642 Z"/>
<path class="t" d="M331.8 629.6 C338 628 343 628 350 631 L497.2 703.7 C503 707 507 712 507 718.5 C507 735 506 748 503.3 758"/>
<path class="t" d="M322 669 C324 675 329.4 681.4 345.4 693.8"/>
<ellipse class="on" cx="344.2" cy="662.9" rx="9.6" ry="13.2" transform="rotate(-20 344.2 662.9)"/>
<ellipse class="on" cx="409.6" cy="697.5" rx="9.2" ry="12.2" transform="rotate(-20 409.6 697.5)"/>
<ellipse class="on" cx="476.2" cy="732" rx="9.6" ry="13" transform="rotate(-20 476.2 732)"/>
<ellipse class="t" cx="411" cy="698.5" rx="6.5" ry="9.5" transform="rotate(-20 411 698.5)"/>
<path class="o" d="M227.6 683.2 C232 677 237 674 241.5 672.1 C248 669.5 253 668.5 258 668.7 L263.6 670 L287.1 683.2 L290.5 687.3 L296 700 L290 740 L271.9 748.8 C268 751 263 753 255.3 755 C251 755.5 248 754 245.6 752.3 L222.1 738.4 C218 733 216.6 730 216.6 727.4 C215 720 214.8 716 215.2 712.2 C215.5 705 216 700 218 695.6 C221 690 224 686 227.6 683.2 Z"/>
<path class="t" d="M276 679.7 C268 679 262 680 258 681.8 C250 686 244 691 241.5 697 C237 705 235 714 235.2 721.9 C235.5 731 237 738 240.1 744 C244 749 248 752 252.5 753.6"/>
<path class="t" d="M278.8 691.5 C272 690 265 690 259.4 691.5 C253 695 249 700 247 705.3 C245 712 244 718 244.2 724.6 C245 731 247.5 737 251.1 741.2 C254 743.5 257 745 259.4 745.4"/>
<path class="f" d="M281.5 695.6 L291.2 688.7 L320.2 665.2 L351.6 703.7 L340 715 L305 741.2 L296.7 748.1 L285.7 749.5 L269.1 746.7 L255.3 739.8 C252.5 737 250.5 732 249.8 726 C249.5 720 250.5 714 252.5 708 C254 703 258 699 263.6 695.6 C268 694.5 275 694.5 281.5 695.6 Z"/>
<path class="t" d="M263.6 695.6 C258 699 254 703 252.5 708 C250.5 714 249.5 720 249.8 726 C250.5 732 252.5 737 255.3 739.8"/>
<path class="on" d="M263.6 695.6 C268 694.5 275 694.5 281.5 695.6 L291.2 688.7 L320.2 665.2"/>
<path class="on" d="M255.3 739.8 C262 744 265 746 269.1 746.7 L285.7 749.5 C292 749.5 296.7 748.1 296.7 748.1 L305 741.2 L351.6 703.7"/>
<path class="t" d="M289.8 691.5 C287 697 286.5 702 287.1 705.3 C287.5 712 289 716 291.2 719.1 C295 724 300 727 305 728.8 L320.2 728.8"/>
<polygon class="o" points="54.1,617.6 57.0,606.0 66.1,598.4 82.6,594.4 99.4,601.4 104.5,617.5 96.6,636.8 78.9,643.2 61.2,634.6"/>
<path class="t" d="M68.5 599.5 L97.4 604.7 M68.5 599.5 L59.5 620.7 L73 627.1 L77.5 642.5"/>
<ellipse class="on" cx="89" cy="622" rx="8" ry="12.5" transform="rotate(-20 89 622)"/>
<ellipse class="t" cx="90" cy="622.5" rx="5.2" ry="9.2" transform="rotate(-20 90 622.5)"/>
<path class="t" d="M86 615 C84 620 85 627 88 630"/>
<ellipse class="o" cx="127.5" cy="645.5" rx="20.9" ry="24.4" transform="rotate(20 127.5 645.5)"/>
<ellipse class="o" cx="129.2" cy="644.6" rx="20.9" ry="24.4" transform="rotate(20 129.2 644.6)"/>
<ellipse class="on" cx="131.3" cy="646" rx="10.2" ry="13.2" transform="rotate(20 131.3 646)"/>
<ellipse class="o" cx="406" cy="784.5" rx="21" ry="24.4" transform="rotate(15 406 784.5)"/>
<ellipse class="o" cx="407.7" cy="783.3" rx="21" ry="24.4" transform="rotate(15 407.7 783.3)"/>
<ellipse class="on" cx="405.8" cy="783.7" rx="9.8" ry="12.2" transform="rotate(15 405.8 783.7)"/>
<path class="t" d="M398 790 C395 782 398 773 405 771"/>
<polygon class="o" points="338.0,798.0 355.2,789.7 369.5,792.7 380.7,813.0 377.7,828.0 360.5,837.0 341.0,835.5 331.2,811.5"/>
<path class="t" d="M355.2 789.7 L359 802 L380.7 813 M359 802 L356 818"/>
<ellipse class="o" cx="344" cy="819" rx="12.7" ry="17.5" transform="rotate(-10 344 819)"/>
<ellipse class="t" cx="345" cy="819.5" rx="9" ry="13" transform="rotate(-10 345 819.5)"/>
<ellipse class="on" cx="345.5" cy="820" rx="6.5" ry="9.5" transform="rotate(-10 345.5 820)"/>
<path class="o" d="M934.1 497.7 L877.9 531.3 C872 535 872 549 878 552 C882 554 884 553 887.1 551.4 L950.9 518.7 Z"/>
<ellipse class="o" cx="880.5" cy="542" rx="6.7" ry="10.4" transform="rotate(-30 880.5 542)"/>
<polyline class="t" points="890.0,548.1 889.2,548.3 888.2,548.2 887.0,547.8 885.8,547.0 884.5,545.9 883.3,544.5 882.1,542.9 881.1,541.2 880.2,539.4 879.4,537.5 878.9,535.8 878.7,534.1 878.6,532.6 878.8,531.4 879.3,530.5 880.0,529.9"/>
<polyline class="t" points="895.4,545.2 894.6,545.4 893.6,545.3 892.4,544.9 891.2,544.1 889.9,543.0 888.7,541.6 887.5,540.0 886.5,538.3 885.6,536.5 884.8,534.6 884.3,532.9 884.1,531.2 884.0,529.7 884.2,528.5 884.7,527.6 885.4,527.0"/>
<polyline class="t" points="900.8,542.3 900.0,542.5 899.0,542.4 897.8,542.0 896.6,541.2 895.3,540.1 894.1,538.7 892.9,537.1 891.9,535.4 891.0,533.6 890.2,531.7 889.7,530.0 889.5,528.3 889.4,526.8 889.6,525.6 890.1,524.7 890.8,524.1"/>
<polyline class="t" points="906.2,539.4 905.4,539.6 904.4,539.5 903.2,539.1 902.0,538.3 900.7,537.2 899.5,535.8 898.3,534.2 897.3,532.5 896.4,530.7 895.6,528.8 895.1,527.1 894.9,525.4 894.8,523.9 895.0,522.7 895.5,521.8 896.2,521.2"/>
<polyline class="t" points="911.6,536.5 910.8,536.7 909.8,536.6 908.6,536.2 907.4,535.4 906.1,534.3 904.9,532.9 903.7,531.3 902.7,529.6 901.8,527.8 901.0,525.9 900.5,524.2 900.3,522.5 900.2,521.0 900.4,519.8 900.9,518.9 901.6,518.3"/>
<polyline class="t" points="917.0,533.6 916.2,533.8 915.2,533.7 914.0,533.3 912.8,532.5 911.5,531.4 910.3,530.0 909.1,528.4 908.1,526.7 907.2,524.9 906.4,523.0 905.9,521.3 905.7,519.6 905.6,518.1 905.8,516.9 906.3,516.0 907.0,515.4"/>
<polygon class="o" points="935.8,488.5 948.4,480.1 961.0,482.6 972.7,501.0 969.4,514.5 955.9,522.0 947.5,518.7 936.0,500.0"/>
<path class="t" d="M948.4 480.1 L955 492 L972.7 501 M955 492 L950 510 L955.9 522"/>
<ellipse class="o" cx="850.5" cy="559" rx="21" ry="24.3" transform="rotate(15 850.5 559)"/>
<ellipse class="o" cx="852.7" cy="558.1" rx="21" ry="24.3" transform="rotate(15 852.7 558.1)"/>
<ellipse class="on" cx="850.7" cy="559" rx="9.6" ry="13.4" transform="rotate(15 850.7 559)"/>
<path class="t" d="M843 565 C840 556 843 548 849 546"/>
<g id="box5">
<ellipse class="o" cx="83" cy="1036.8" rx="27.6" ry="24.4"/>
<path class="o" d="M66.7 958 C64 970 63.5 980 64.6 988 C65.5 1000 66.5 1010 66.7 1016.6 L100.7 1013.8 C101.5 1004 101.8 994 101.4 984 C101 975 99.8 966 98.6 958 Z"/>
<path class="t" d="M65 992 C75 998 92 998 101.2 990 M65.3 1000 C75 1006 92 1006 101 998"/>
<path class="t" d="M66.7 1016.6 C68 1024 76 1028 84 1028 C92 1028 99 1023 100.7 1013.8"/>
<path class="t" d="M67 1022 C72 1030 80 1031 88 1030.5"/>
<path class="o" d="M70.8 935 L70.8 958 L96.2 958 L96.2 935 Z"/>
<path class="t" d="M71 939 Q83.5 942.5 96 939"/>
<path class="t" d="M71 943.5 Q83.5 947.0 96 943.5"/>
<path class="t" d="M71 948 Q83.5 951.5 96 948"/>
<path class="t" d="M71 952.5 Q83.5 956.0 96 952.5"/>
<path class="t" d="M71 957 Q83.5 960.5 96 957"/>
<path class="o" d="M70 912 L70 924 Q83.3 929 96.7 924 L96.7 912 Z"/>
<ellipse cx="83.7" cy="909" rx="45.5" ry="22.7" fill="none" stroke="#000" stroke-width="3"/>
<path class="o" d="M57.5 825 C50 828 46 832 45 835 C43 845 43 850 42.5 855 C38 859 36 862 35.8 866.7 C35 872 35 877 35.8 880 C37 886 39 890 41.7 893.3 C48 899 55 902 61.7 903.3 C70 906 76 906.7 83.3 906.7 C92 906.7 100 905 106.7 903.3 C115 900 122 897 126.7 893.3 C129 888 130.5 884 130.8 880 C131 875 131 870 130 866.7 C128 862 126 858 123.3 855 C122 848 121 842 120 836.7 C117 831 114 828 110 825 Z"/>
<path class="t" d="M36.5 874 C45 888 65 895 83 895 C103 895 122 888 130.5 874"/>
<path class="t" d="M44 862 C55 875 68 880 83 880 C100 880 115 875 124 862"/>
<path class="on" d="M45 855 C50 851 55 851 62 855 C68 858 72 862 82 868"/>
<path class="t" d="M50 863 C55 865 60 867 67 866 M70 855 C74 857 77 858 80 857 M93 852 C98 856 104 855 113 850 M88 875 C93 873 97 874 102 877 M61 873 C65 876 70 877 74 876 M103 883 C107 882 111 884 115 887 M113 862 C116 864 118 867 120 870 M75 845 C80 847 86 848 92 846"/>
<path class="t" d="M44 838 C48 834 54 832 58 831 M110.5 831 C115 833 119 836 121 840"/>
<path class="o" d="M57.5 829.2 L57.5 844 Q84.2 858 110.8 844 L110.8 829.2 Z"/>
<ellipse class="o" cx="84.2" cy="829.2" rx="26.7" ry="15"/>
<ellipse class="t" cx="84.2" cy="832" rx="20" ry="11.3"/>
<ellipse class="on" cx="84.2" cy="835.4" rx="14" ry="6.5"/>
<path class="o" d="M165.7 900.4 V916.2 A32.7 21.4 0 0 0 231.1 916.2 V900.4 Z"/>
<ellipse class="o" cx="198.4" cy="900.4" rx="32.7" ry="21.4"/>
<ellipse class="on" cx="197.8" cy="900.6" rx="23.5" ry="14.6"/>
<path class="t" d="M176 905 C182 913 214 913 220 905"/>
<path class="t" d="M170 890 C176 882 188 880 196 880 M204 880.5 C214 881 224 885 228 892"/>
<path class="f" d="M167 955.6 V972 A30.4 15.5 0 0 0 227.8 972 V955.6 Z"/>
<path class="on" d="M167 955.6 V972 A30.4 15.5 0 0 0 227.8 972 V955.6"/>
<polyline class="on" points="167.1,954.2 167.4,953.0 167.9,951.8 168.6,950.6 169.5,949.5 170.5,948.3 171.8,947.3 173.1,946.3 174.7,945.3 176.4,944.4 178.2,943.6 180.1,942.8 182.2,942.2"/>
<polyline class="on" points="212.6,942.2 216.0,943.4 219.1,944.8 221.8,946.4 224.1,948.2 225.8,950.1 227.0,952.1 227.7,954.2 227.8,956.3 227.3,958.4 226.3,960.5 224.7,962.4 222.6,964.3 220.1,965.9 217.1,967.4 213.7,968.7 210.1,969.7 206.2,970.4 202.2,970.9 198.0,971.1 193.9,971.0 189.8,970.6 185.8,969.9 182.1,969.0 178.7,967.8 175.6,966.4 172.9,964.8 170.7,963.0 169.0,961.1 167.8,959.0 167.1,957.0"/>
<polyline class="t" points="176.7,953.8 177.8,951.8 179.7,949.9 182.3,948.3 185.5,947.0 189.1,946.0 193.0,945.3 197.2,945.1 201.3,945.3 205.3,945.9 208.9,946.8 212.2,948.1 214.8,949.7 216.8,951.6 218.0,953.5 218.4,955.6 218.0,957.7 216.8,959.6 214.8,961.5 212.2,963.1 208.9,964.4 205.3,965.3 201.3,965.9 197.2,966.1 193.0,965.9 189.1,965.2 185.5,964.2 182.3,962.9 179.7,961.3 177.8,959.4 176.7,957.4"/>
<polyline class="t" points="177.7,950.9 178.2,950.4 178.8,949.8 179.4,949.3 180.2,948.8 181.0,948.4 181.9,947.9 182.9,947.5 183.9,947.1"/>
<polyline class="t" points="210.9,947.1 211.9,947.5 212.9,947.9 213.8,948.4 214.6,948.8 215.4,949.3 216.0,949.8 216.6,950.4 217.1,950.9"/>
<polyline class="on" points="203.4,957.6 202.8,958.3 202.0,958.9 201.1,959.4 200.0,959.7 198.9,959.9 197.8,960.0 196.7,959.9 195.6,959.7 194.6,959.4 193.6,958.9 192.8,958.3 192.2,957.6 191.7,956.8 191.4,956.0 191.3,955.2 191.4,954.4 191.7,953.6 192.2,952.8 192.8,952.1 193.6,951.5 194.6,951.0 195.6,950.7 196.7,950.5 197.8,950.4 198.9,950.5 200.0,950.7 201.1,951.0 202.0,951.5 202.8,952.1 203.4,952.8"/>
<path class="t" d="M168 968 A30 14 0 0 0 227 968"/>
<polyline class="on" points="172.4,1003.6 172.8,1003.0 173.3,1002.4 173.8,1001.9 174.3,1001.3 174.9,1000.8 175.5,1000.3 176.1,999.7 176.7,999.2 177.4,998.8 178.1,998.3 178.8,997.9 179.6,997.4 180.4,997.0 181.2,996.6 182.0,996.2 182.8,995.9 183.7,995.6 184.6,995.2 185.5,994.9 186.4,994.7 187.3,994.4 188.2,994.2 189.2,994.0 190.1,993.8 191.1,993.6 192.0,993.5 193.0,993.3 194.0,993.2 195.0,993.2 196.0,993.1 196.9,993.1 197.9,993.1 198.9,993.1 199.9,993.1 200.9,993.2 201.8,993.2 202.8,993.3 203.7,993.5 204.7,993.6 205.6,993.8 206.5,993.9 207.4,994.1 208.3,994.4 209.1,994.6 210.0,994.8 210.8,995.1 211.6,995.4 212.4,995.7 213.2,996.1 213.9,996.4 214.6,996.8 215.3,997.1 216.0,997.5 216.7,997.9 217.3,998.3 217.9,998.8 218.4,999.2 219.0,999.7 219.5,1000.1 219.9,1000.6 220.4,1001.1 220.8,1001.6 221.2,1002.1 221.5,1002.6 221.8,1003.1 222.1,1003.6 222.4,1004.1 222.6,1004.7 222.8,1005.2 222.9,1005.7 223.0,1006.3 223.1,1006.8 223.2,1007.3 223.2,1007.9 223.2,1008.4 223.1,1008.9 223.0,1009.5 222.9,1010.0 222.8,1010.5 222.6,1011.0 222.4,1011.5 222.1,1012.0 221.9,1012.5 221.5,1013.0 221.2,1013.5 220.9,1014.0 220.5,1014.4 220.0,1014.9 219.6,1015.3 219.1,1015.8 218.6,1016.2 218.1,1016.6 217.6,1017.0 217.0,1017.4 216.4,1017.7 215.8,1018.1 215.2,1018.4 214.5,1018.7 213.9,1019.0 213.2,1019.3 212.5,1019.6 211.8,1019.9 211.0,1020.1 210.3,1020.3 209.5,1020.5 208.8,1020.7 208.0,1020.9 207.2,1021.0 206.4,1021.2 205.6,1021.3 204.8,1021.4 204.0,1021.5 203.2,1021.5 202.4,1021.6 201.6,1021.6 200.8,1021.6 200.0,1021.6 199.2,1021.6 198.4,1021.5 197.6,1021.4 196.8,1021.4 196.0,1021.3 195.2,1021.1 194.4,1021.0 193.7,1020.9 192.9,1020.7 192.2,1020.5 191.5,1020.3 190.8,1020.1 190.1,1019.8 189.4,1019.6 188.8,1019.3 188.1,1019.1 187.5,1018.8 186.9,1018.5 186.3,1018.1 185.7,1017.8 185.2,1017.5 184.7,1017.1 184.2,1016.8 183.7,1016.4 183.2,1016.0 182.8,1015.6 182.4,1015.2 182.0,1014.8 181.7,1014.4 181.4,1014.0 181.1,1013.6 180.8,1013.1 180.5,1012.7 180.3,1012.3 180.1,1011.8 180.0,1011.4 179.8,1010.9 179.7,1010.5 179.6,1010.0 179.6,1009.6 179.5,1009.1 179.5,1008.7 179.5,1008.2 179.6,1007.8 179.7,1007.3 179.8,1006.9 179.9,1006.5 180.0,1006.0 180.2,1005.6 180.4,1005.2 180.6,1004.8 180.9,1004.4 181.2,1004.0 181.5,1003.6 181.8,1003.2 182.1,1002.8 182.5,1002.4 182.9,1002.1 183.3,1001.7 183.7,1001.4 184.1,1001.0 184.6,1000.7 185.1,1000.4 185.6,1000.1 186.1,999.8 186.6,999.6 187.1,999.3 187.7,999.1 188.2,998.8 188.8,998.6 189.4,998.4 190.0,998.2 190.6,998.1 191.2,997.9 191.8,997.7 192.4,997.6 193.1,997.5 193.7,997.4 194.3,997.3 195.0,997.2 195.6,997.2 196.3,997.1 196.9,997.1 197.5,997.1 198.2,997.1 198.8,997.1 199.4,997.1 200.1,997.1 200.7,997.2 201.3,997.3 201.9,997.3 202.5,997.4 203.1,997.6 203.7,997.7 204.2,997.8 204.8,998.0 205.3,998.1 205.9,998.3 206.4,998.5 206.9,998.6 207.4,998.9 207.9,999.1 208.3,999.3 208.8,999.5 209.2,999.8 209.6,1000.0 210.0,1000.3 210.4,1000.5 210.8,1000.8 211.1,1001.1 211.4,1001.4 211.7,1001.7 212.0,1002.0 212.3,1002.3 212.5,1002.6 212.7,1002.9 212.9,1003.2 213.1,1003.5 213.3,1003.8 213.4,1004.2 213.5,1004.5 213.6,1004.8 213.7,1005.1 213.8,1005.5 213.8,1005.8 213.8,1006.1 213.8,1006.4 213.8,1006.8 213.7,1007.1 213.7,1007.4 213.6,1007.7 213.5,1008.0 213.3,1008.3 213.2,1008.6 213.0,1008.9 212.8,1009.2 212.6,1009.5 212.4,1009.8 212.2,1010.1 211.9,1010.4 211.7,1010.6 211.4,1010.9 211.1,1011.1 210.8,1011.4 210.5,1011.6 210.1,1011.8 209.8,1012.0 209.4,1012.2 209.0,1012.4 208.6,1012.6 208.2,1012.8 207.8,1013.0 207.4,1013.1 207.0,1013.3 206.6,1013.4 206.1,1013.5 205.7,1013.7 205.2,1013.8 204.8,1013.9 204.3,1013.9 203.9,1014.0 203.4,1014.1 202.9,1014.1 202.5,1014.2 202.0,1014.2 201.5,1014.2 201.0,1014.2 200.6,1014.2 200.1,1014.2 199.7,1014.2 199.2,1014.2 198.7,1014.1 198.3,1014.1 197.8,1014.0 197.4,1013.9 197.0,1013.8 196.5,1013.7 196.1,1013.6 195.7,1013.5 195.3,1013.4 194.9,1013.3 194.5,1013.1 194.1,1013.0 193.8,1012.8 193.4,1012.7 193.1,1012.5 192.7,1012.3 192.4,1012.2 192.1,1012.0 191.8,1011.8 191.5,1011.6 191.3,1011.4 191.0,1011.2 190.8,1010.9 190.5,1010.7 190.3,1010.5 190.1,1010.3 189.9,1010.0 189.8,1009.8 189.6,1009.6 189.5,1009.3 189.3,1009.1 189.2,1008.8 189.1,1008.6 189.0,1008.4 189.0,1008.1 188.9,1007.9 188.9,1007.6 188.9,1007.4 188.9,1007.1 188.9,1006.9 188.9,1006.7 188.9,1006.4 189.0,1006.2 189.0,1005.9 189.1,1005.7 189.2,1005.5 189.3,1005.3 189.4,1005.0 189.5,1004.8 189.7,1004.6 189.8,1004.4 190.0,1004.2 190.2,1004.0 190.3,1003.8 190.5,1003.6 190.7,1003.4 191.0,1003.3 191.2,1003.1 191.4,1002.9 191.6,1002.8 191.9,1002.6 192.1,1002.5 192.4,1002.3 192.7,1002.2 192.9,1002.1 193.2,1002.0 193.5,1001.8 193.8,1001.7 194.1,1001.6 194.4,1001.6 194.7,1001.5 195.0,1001.4 195.3,1001.3 195.6,1001.3 195.9,1001.2 196.2,1001.2 196.5,1001.1 196.8,1001.1 197.1,1001.1 197.4,1001.1 197.7,1001.1 198.0,1001.1 198.3,1001.1 198.6,1001.1 198.9,1001.1 199.1,1001.1 199.4,1001.1 199.7,1001.2 200.0,1001.2 200.2,1001.3 200.5,1001.3 200.7,1001.4 201.0,1001.4 201.2,1001.5 201.5,1001.6 201.7,1001.7 201.9,1001.7 202.1,1001.8 202.3,1001.9 202.5,1002.0 202.7,1002.1 202.9,1002.2 203.0,1002.3 203.2,1002.4 203.4,1002.5 203.5,1002.7 203.6,1002.8 203.8,1002.9 203.9,1003.0 204.0,1003.1 204.1,1003.3 204.2,1003.4"/>
<ellipse class="on" cx="198.1" cy="1045" rx="30" ry="17.5"/>
<ellipse class="t" cx="198.1" cy="1045.8" rx="26.3" ry="15"/>
<path class="f" d="M163.8 1075 V1082 A33.8 19 0 0 0 231.3 1082 V1075 Z"/>
<polyline class="on" points="164.2,1071.7 166.4,1067.6 170.2,1063.8 175.3,1060.7 181.6,1058.2 188.8,1056.6 196.3,1056.0 203.9,1056.3 211.2,1057.6 217.8,1059.8 223.4,1062.8 227.6,1066.4 230.3,1070.4 231.3,1074.7 230.6,1079.0 228.1,1083.0 224.1,1086.7 218.8,1089.8 212.3,1092.1 205.1,1093.5 197.5,1094.0 189.9,1093.5 182.7,1092.1 176.2,1089.8 170.9,1086.7 166.9,1083.0 164.4,1079.0 163.7,1074.7 164.7,1070.4 167.4,1066.4 171.6,1062.8 177.2,1059.8 183.8,1057.6 191.1,1056.3 198.7,1056.0 206.2,1056.6 213.4,1058.2 219.7,1060.7 224.8,1063.8 228.6,1067.6 230.8,1071.7"/>
<path class="on" d="M163.8 1075 V1082 A33.8 19 0 0 0 231.3 1082 V1075"/>
<polyline class="t" points="170.9,1069.4 172.6,1066.1 175.7,1063.2 179.8,1060.7 184.8,1058.8 190.5,1057.5 196.6,1057.0 202.7,1057.3 208.5,1058.3 213.7,1060.0 218.2,1062.4 221.6,1065.2 223.7,1068.4 224.5,1071.7 223.9,1075.1 222.0,1078.3 218.8,1081.2 214.5,1083.7 209.3,1085.5 203.6,1086.6 197.5,1087.0 191.4,1086.6 185.7,1085.5 180.5,1083.7 176.2,1081.2 173.0,1078.3 171.1,1075.1 170.5,1071.7 171.3,1068.4 173.4,1065.2 176.8,1062.4 181.3,1060.0 186.5,1058.3 192.3,1057.3 198.4,1057.0 204.5,1057.5 210.2,1058.8 215.2,1060.7 219.3,1063.2 222.4,1066.1 224.1,1069.4"/>
<path class="on" d="M182.5 1055 C190 1050 205 1050 217.5 1055"/>
<polyline class="on" points="235.8,1116.7 235.5,1117.7 235.1,1118.7 234.5,1119.7 233.9,1120.7 233.1,1121.7 232.3,1122.6 231.3,1123.5 230.3,1124.4 229.1,1125.3 227.9,1126.1 226.6,1126.9 225.2,1127.7 223.8,1128.4 222.2,1129.1 220.6,1129.7 219.0,1130.3 217.2,1130.8 215.4,1131.3 213.6,1131.8 211.7,1132.2 209.8,1132.5 207.9,1132.8 205.9,1133.0 203.9,1133.2 201.9,1133.3 199.9,1133.4 197.9,1133.4 195.9,1133.4 193.8,1133.3 191.8,1133.1"/>
<polyline class="on" points="184.9,1132.1 183.6,1131.9 182.4,1131.6 181.2,1131.3 180.0,1130.9 178.8,1130.6 177.7,1130.2 176.6,1129.8 175.5,1129.4 174.5,1129.0 173.4,1128.6 172.4,1128.1 171.5,1127.6 170.6,1127.1 169.7,1126.6 168.8,1126.1 168.0,1125.5 167.2,1125.0 166.5,1124.4 165.8,1123.8 165.1,1123.2 164.5,1122.6 163.9,1122.0 163.4,1121.3 162.9,1120.7 162.5,1120.0 162.1,1119.4 161.7,1118.7 161.4,1118.1 161.2,1117.4 161.0,1116.7"/>
<path class="on" d="M160.6 1109.4 V1114 M236.2 1109.4 V1114"/>
<polyline class="on" points="184.9,1127.5 181.3,1126.7 178.0,1125.7 174.9,1124.6 172.0,1123.3 169.4,1121.8 167.1,1120.3 165.1,1118.6 163.5,1116.8 162.2,1115.0 161.3,1113.0 160.7,1111.1 160.6,1109.1 160.9,1107.2 161.5,1105.2 162.5,1103.3 163.9,1101.5 165.6,1099.7 167.7,1098.1 170.1,1096.5 172.8,1095.1 175.7,1093.9 178.9,1092.8 182.3,1091.8 185.8,1091.1 189.5,1090.5 193.3,1090.2 197.1,1090.0 200.9,1090.0 204.8,1090.3 208.5,1090.7 212.1,1091.3 215.6,1092.1 219.0,1093.1 222.1,1094.3 224.9,1095.6 227.5,1097.0 229.8,1098.6 231.8,1100.3 233.4,1102.1 234.7,1103.9 235.6,1105.9 236.1,1107.8 236.2,1109.8 235.9,1111.7 235.3,1113.7 234.2,1115.6 232.8,1117.4 231.1,1119.2 229.0,1120.8 226.6,1122.3 223.9,1123.7 220.9,1125.0 217.7,1126.1 214.3,1127.0 210.8,1127.7 207.1,1128.3 203.3,1128.6 199.5,1128.8 195.6,1128.7 191.8,1128.5"/>
<polyline class="t" points="185.8,1120.7 183.0,1120.1 180.4,1119.3 178.0,1118.4 175.8,1117.4 173.8,1116.3 172.1,1115.1 170.6,1113.9 169.3,1112.6 168.4,1111.2 167.8,1109.8 167.5,1108.3 167.4,1106.9 167.7,1105.5 168.3,1104.0 169.2,1102.7 170.4,1101.3 171.8,1100.1 173.5,1098.9 175.5,1097.7 177.7,1096.7 180.0,1095.8 182.6,1095.0 185.3,1094.3 188.2,1093.8 191.2,1093.4 194.2,1093.1 197.3,1093.0 200.3,1093.0 203.4,1093.2 206.4,1093.5 209.4,1093.9 212.2,1094.5 214.9,1095.2 217.4,1096.0 219.7,1097.0 221.9,1098.0 223.8,1099.2 225.4,1100.4 226.8,1101.7 227.9,1103.0 228.7,1104.4 229.2,1105.8 229.4,1107.3 229.3,1108.7 228.9,1110.1 228.2,1111.5 227.2,1112.9 225.9,1114.2 224.3,1115.5 222.5,1116.6 220.4,1117.7 218.2,1118.7 215.7,1119.5 213.0,1120.3 210.3,1120.9 207.4,1121.4 204.4,1121.7 201.3,1121.9 198.2,1122.0 195.2,1121.9"/>
<path class="on" d="M185.6 1127.7 L187 1119 L184 1121 M191.6 1128 L191 1120 L194 1122"/>
</g>
</g>
<!-- watermark -->
<g id="wm" style="mix-blend-mode:multiply">
<text class="wm" font-size="152" text-anchor="middle" transform="translate(112.15,628) scale(0.96,1)">s</text>
<text class="wm" font-size="152" text-anchor="middle" transform="translate(192.65,628) scale(0.96,1)">c</text>
<text class="wm" font-size="152" text-anchor="middle" transform="translate(280.6,628) scale(0.96,1)">u</text>
<text class="wm" font-size="152" text-anchor="middle" transform="translate(369.65,628) scale(0.96,1)">d</text>
<text class="wm" font-size="152" text-anchor="middle" transform="translate(443.75,628) scale(0.96,1)">e</text>
<text class="wm" font-size="152" text-anchor="middle" transform="translate(510.25,628) scale(0.96,1)">r</text>
<text class="wm" font-size="152" text-anchor="middle" transform="translate(561,628) scale(0.96,1)">i</text>
<text class="wm" font-size="152" text-anchor="middle" transform="translate(628.5,628) scale(0.96,1)">a</text>
<text class="wg" font-size="46" text-anchor="middle" x="87.75" y="688">c</text>
<text class="wg" font-size="46" text-anchor="middle" x="162" y="688">a</text>
<text class="wg" font-size="46" text-anchor="middle" x="236" y="688">r</text>
<text class="wg" font-size="46" text-anchor="middle" x="371.2" y="688">p</text>
<text class="wg" font-size="46" text-anchor="middle" x="447.6" y="688">a</text>
<text class="wg" font-size="46" text-anchor="middle" x="520" y="688">r</text>
<text class="wg" font-size="46" text-anchor="middle" x="585.2" y="688">t</text>
<text class="wg" font-size="46" text-anchor="middle" x="655.2" y="688">s</text>
</g>
<g id="flag" fill="#dcdcdc" style="mix-blend-mode:multiply"><polygon points="686.3,519.5 725.8,531.3 732.1,556.6 691.1,549.5"/><polygon points="721.1,504.5 754.2,514.0 760.6,539.2 727.4,530.5"/><polygon points="787.4,525.8 814.3,533.7 820.6,558.2 793.7,550.3"/><polygon points="732.1,559.8 766.1,569.2 773.2,596.1 738.4,586.6"/><polygon points="762.1,540.8 787.4,547.1 793.7,569.2 768.5,562.9"/><polygon points="697.4,585.8 732.1,594.5 738.4,618.0 702.1,615.0"/><polygon points="823.8,560.0 848.1,567.5 857.5,591.9 833.1,584.4"/><polygon points="874.4,575.9 896.9,580.6 908.2,604.1 883.8,599.4"/><polygon points="806.9,580.6 835.0,588.1 842.5,614.4 814.4,606.9"/><polygon points="848.1,616.3 876.3,621.9 885.7,650.0 855.6,644.4"/><polygon points="900.7,627.5 926.9,634.1 936.3,659.4 910.0,653.8"/><polygon points="780.6,605.0 806.9,610.6 816.3,640.7 788.1,635.0"/><polygon points="827.5,644.4 857.5,650.0 868.8,685.7 836.9,680.0"/><polygon points="887.5,653.8 913.8,659.4 926.9,689.4 898.8,683.8"/><polygon points="758.0,633.0 791.9,638.8 801.3,678.2 763.0,674.0"/></g>
<!-- labels -->
<g id="labels">
<text class="lb" x="462" y="65">1</text>
<text class="lb" x="625" y="1192">2</text>
<text class="lb" x="957" y="1015">3</text>
<text class="lb" x="957" y="1100">4</text>
<text class="lb" x="121" y="753">5</text>
<text class="lb" x="335" y="121">6</text>
<text class="lb" x="412" y="409">7</text>
<text class="lb" x="412" y="352">8</text>
<text class="lb" x="267" y="584">9</text>
<text class="lb" x="115" y="554">10</text>
<text class="lb" x="48" y="541">11</text>
<text class="lb" x="982" y="599">12</text>
<text class="lb" x="912" y="654">13</text>
<text class="lb" x="397" y="892">14</text>
<text class="lb" x="341" y="921">15</text>
<text class="lb" x="911" y="298">16</text>
<text class="lb" x="416" y="479">17</text>
<text class="lb" x="368" y="505">18</text>
</g>
<g id="leaders" class="ld">
<path d="M478.6 62 L565.4 148.4"/>
<path d="M632.4 1111 V1164.2"/>
<path d="M890.3 1001.7 H952.6"/>
<path d="M881 1086.4 H952.6"/>
<path d="M127.8 758 V783.7"/>
<path d="M343 125.3 V185.4"/>
<path d="M432 397 H504.7"/>
<path d="M431 339 H547.3"/>
<path d="M284.4 583.1 L326.4 625"/>
<path d="M130.1 558.2 V617.6"/>
<path d="M60.5 545.1 V597.8"/>
<path d="M985.3 569.8 L940.8 526.2"/>
<path d="M913.9 625.8 L869.5 580.8"/>
<path d="M410.7 811.5 V864.7"/>
<path d="M355.5 840 V892.5"/>
<path d="M860 285 H908.8"/>
<path d="M443.4 481.1 L483 520"/>
<path d="M395.7 507.7 L435 545"/>
</g>
<g id="dots" fill="#000">
<circle cx="565.4" cy="148.4" r="3.4"/>
<circle cx="632.4" cy="1111" r="3.4"/>
<circle cx="890.3" cy="1001.7" r="3.4"/>
<circle cx="881" cy="1086.4" r="3.4"/>
<circle cx="343" cy="185.4" r="3.4"/>
<circle cx="504.7" cy="397" r="3.4"/>
<circle cx="547.3" cy="339" r="3.4"/>
<circle cx="326.4" cy="625" r="3.4"/>
<circle cx="130.1" cy="617.6" r="3.4"/>
<circle cx="60.5" cy="597.8" r="3.4"/>
<circle cx="940.8" cy="526.2" r="3.4"/>
<circle cx="869.5" cy="580.8" r="3.4"/>
<circle cx="410.7" cy="811.5" r="3.4"/>
<circle cx="355.5" cy="840" r="3.4"/>
<circle cx="860" cy="285" r="3.4"/>
<circle cx="483" cy="520" r="3.4"/>
<circle cx="435" cy="545" r="3.4"/>
</g>
<rect x="4" y="783.7" width="248" height="360.5" fill="none" stroke="#000" stroke-width="1.6"/>
</svg>
</body></html>
